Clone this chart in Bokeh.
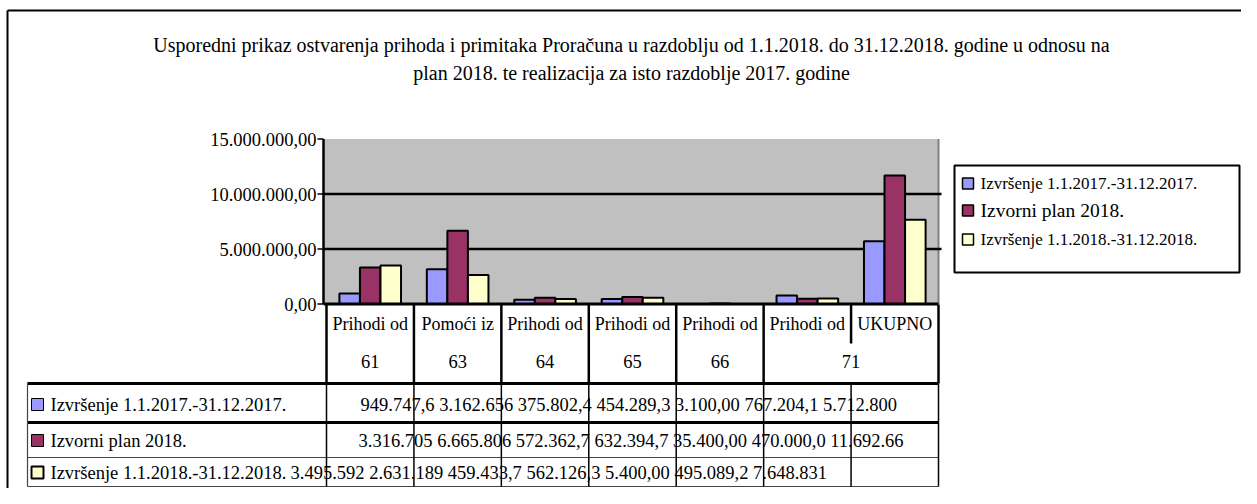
from bokeh.plotting import figure
from bokeh.models import Range1d
from bokeh.core.properties import value
from bokeh.embed import file_html
from bokeh.resources import INLINE

# ---------------- data ----------------
title_lines = [
    "Usporedni prikaz ostvarenja prihoda i primitaka Proračuna u razdoblju od 1.1.2018. do 31.12.2018. godine u odnosu na",
    "plan 2018. te realizacija za isto razdoblje 2017. godine",
]
categories = ["Prihodi od", "Pomoći iz", "Prihodi od", "Prihodi od", "Prihodi od", "Prihodi od", "UKUPNO"]
codes = ["61", "63", "64", "65", "66", "71", ""]
series_names = ["Izvršenje 1.1.2017.-31.12.2017.", "Izvorni plan 2018.", "Izvršenje 1.1.2018.-31.12.2018."]

izvrsenje_2017 = [949747.6, 3162656, 375802.4, 454289.3, 3100.00, 767204.1, 5712800]
plan_2018 = [3316705, 6665806, 572362.7, 632394.7, 35400.00, 470000.0, 11692668]
izvrsenje_2018 = [3495592, 2631189, 459433.7, 562126.3, 5400.00, 495089.2, 7648831]

izvrsenje_2017_txt = ["949.747,6", "3.162.656", "375.802,4", "454.289,3", "3.100,00", "767.204,1", "5.712.800"]
plan_2018_txt = ["3.316.705", "6.665.806", "572.362,7", "632.394,7", "35.400,00", "470.000,0", "11.692.66"]
izvrsenje_2018_txt = ["3.495.592", "2.631.189", "459.433,7", "562.126,3", "5.400,00", "495.089,2", "7.648.831"]

y_ticks = [0, 5000000, 10000000, 15000000]
y_tick_labels = ["0,00", "5.000.000,00", "10.000.000,00", "15.000.000,00"]

colors = ["#9999FF", "#993366", "#FFFFCC"]

# ---------------- layout ----------------
W, H = 1241, 488
FONT = value("Liberation Serif")

p = figure(width=W, height=H, x_range=Range1d(0, W), y_range=Range1d(H, 0),
           min_border=0, toolbar_location=None, output_backend="svg",
           x_axis_type=None, y_axis_type=None, outline_line_color=None,
           background_fill_color="white", border_fill_color="white")
p.xgrid.visible = False
p.ygrid.visible = False

# category scale (px)
cat_left, cat_right = 326.0, 938.0
cat_w = (cat_right - cat_left) / len(categories)
def cat_at(px):
    return (px - cat_left) / cat_w - 0.5
# value scale (px)
zero_px, px_per_unit = 303.5, 11.0 / 1e6
def val_at(px):
    return (zero_px - px) / px_per_unit

p.extra_x_ranges = {"cat": Range1d(cat_at(0), cat_at(W))}
p.extra_y_ranges = {"val": Range1d(val_at(H), val_at(0))}

# outer border (top and left)
p.segment(x0=[7, 7], y0=[10, 10], x1=[W, 7], y1=[10, H], line_color="black", line_width=2)

# title
p.text(x=[631, 631], y=[44, 72], text=title_lines, text_align="center", text_baseline="middle",
       text_font=FONT, text_font_size="20px", text_color="black")

# plot area
ymax = y_ticks[-1]
p.quad(left=[323], right=[938], bottom=[0], top=[ymax], y_range_name="val",
       fill_color="#C0C0C0", line_color=None)
p.segment(x0=[938], x1=[938], y0=[0], y1=[ymax], y_range_name="val", line_color="#808080", line_width=2)

# horizontal gridlines
grid_vals = y_ticks[1:-1]
p.segment(x0=[323] * len(grid_vals), x1=[941] * len(grid_vals), y0=grid_vals, y1=grid_vals,
          y_range_name="val", line_color="black", line_width=2.5)

# bars
bw = 0.235
for i, (vals, col) in enumerate(zip([izvrsenje_2017, plan_2018, izvrsenje_2018], colors)):
    xs = [j + (i - 1) * bw for j in range(len(categories))]
    p.vbar(x=xs, width=bw, top=vals, bottom=0, fill_color=col, line_color="black", line_width=2,
           x_range_name="cat", y_range_name="val")

# y axis
p.segment(x0=[323], x1=[323], y0=[0], y1=[ymax], y_range_name="val", line_color="black", line_width=2.5)
p.segment(x0=[317] * len(y_ticks), x1=[323] * len(y_ticks), y0=y_ticks, y1=y_ticks,
          y_range_name="val", line_color="black", line_width=1.5)
p.text(x=[316] * len(y_ticks), y=y_ticks, text=y_tick_labels, y_range_name="val",
       text_align="right", text_baseline="middle", text_font=FONT, text_font_size="18.5px", text_color="black")

# bottom of plot (0 line)
p.segment(x0=[323], x1=[938], y0=[0], y1=[0], y_range_name="val", line_color="black", line_width=3)

# header cells
n = len(categories)
bounds = [k - 0.5 for k in range(n + 1)]
hdr_bottom = [383 if k != n - 1 else 343 for k in range(n + 1)]
p.segment(x0=bounds, x1=bounds, y0=[304] * (n + 1), y1=hdr_bottom, x_range_name="cat",
          line_color="black", line_width=2.5)
p.text(x=list(range(n)), y=[323] * n, text=categories, x_range_name="cat",
       text_align="center", text_baseline="middle", text_font=FONT, text_font_size="18px", text_color="black")
code_x = []
for k, c in enumerate(codes):
    if k + 1 < n and codes[k + 1] == "":
        code_x.append(k + 0.5)
    else:
        code_x.append(k)
p.text(x=code_x, y=[361] * n, text=codes, x_range_name="cat",
       text_align="center", text_baseline="middle", text_font=FONT, text_font_size="18.5px", text_color="black")

# data table
tbl_lines_y = [383, 422, 457, 486]
p.segment(x0=[27] * 4, x1=[938] * 4, y0=tbl_lines_y, y1=tbl_lines_y,
          line_color=["black", "black", "#444444", "#444444"], line_width=[3, 3, 1.2, 1.2])
p.segment(x0=[27], x1=[27], y0=[383], y1=[486], line_color="#444444", line_width=1.2)
p.segment(x0=bounds, x1=bounds, y0=[383] * (n + 1), y1=[486] * (n + 1), x_range_name="cat",
          line_color="black", line_width=1.5)

row_y = [404, 440, 472]
row_vals_x = [360, 358, 290]
row_txts = [izvrsenje_2017_txt, plan_2018_txt, izvrsenje_2018_txt]
p.quad(left=[31] * 3, right=[43] * 3, top=[y - 6 for y in row_y], bottom=[y + 6 for y in row_y],
       fill_color=colors, line_color="black", line_width=[1, 1, 2])
p.text(x=[50] * 3, y=row_y, text=series_names, text_align="left", text_baseline="middle",
       text_font=FONT, text_font_size="18.5px", text_color="black")
p.text(x=row_vals_x, y=row_y, text=[" ".join(t) for t in row_txts], text_align="left",
       text_baseline="middle", text_font=FONT, text_font_size="18.5px", text_color="black")

# legend
p.quad(left=[954], right=[1239], top=[165], bottom=[272], fill_color="white", line_color="black", line_width=2)
leg_y = [183, 210, 239]
p.quad(left=[962] * 3, right=[973] * 3, top=[y - 5.5 for y in leg_y], bottom=[y + 5.5 for y in leg_y],
       fill_color=colors, line_color="black", line_width=1.5)
p.text(x=[980] * 3, y=leg_y, text=series_names, text_align="left", text_baseline="middle",
       text_font=FONT, text_font_size=["17px", "19.5px", "17px"], text_color="black")

open("out.html", "w").write(file_html(p, INLINE))
